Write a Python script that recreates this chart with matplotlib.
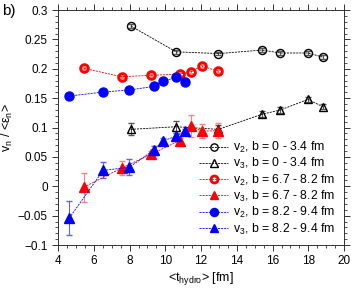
import matplotlib
matplotlib.use("Agg")
import matplotlib.pyplot as plt
import numpy as np
from matplotlib.ticker import MultipleLocator
from matplotlib.lines import Line2D

plt.rcParams['font.family'] = ['Liberation Sans', 'DejaVu Sans']
plt.rcParams['mathtext.fontset'] = 'custom'
plt.rcParams['mathtext.rm'] = 'Liberation Sans'
plt.rcParams['mathtext.it'] = 'Liberation Sans'

# b = 0 - 3.4 fm
t_c = [8.07, 10.6, 12.97, 15.4, 16.44, 17.98, 18.8]
v2_c = [0.273, 0.229, 0.226, 0.232, 0.227, 0.227, 0.220]
e2_c = [0.003, 0.003, 0.003, 0.003, 0.003, 0.003, 0.003]
v3_c = [0.097, 0.1015, 0.097, 0.1226, 0.130, 0.148, 0.1356]
e3_c = [0.010, 0.010, 0.008, 0.005, 0.005, 0.004, 0.004]

# b = 6.7 - 8.2 fm
t_m = [5.44, 7.55, 9.2, 10.8, 11.43, 12.04, 12.95]
v2_m = [0.201, 0.1866, 0.189, 0.191, 0.195, 0.205, 0.196]
e2_m = [0.003, 0.003, 0.003, 0.003, 0.003, 0.003, 0.003]
v3_m = [-0.0015, 0.031, 0.0546, 0.078, 0.1027, 0.094, 0.0947]
e3_m = [0.025, 0.012, 0.005, 0.005, 0.019, 0.012, 0.013]

# b = 8.2 - 9.4 fm
t_p = [4.62, 6.52, 7.98, 9.35, 9.86, 10.62, 11.08]
v2_p = [0.1537, 0.1605, 0.164, 0.170, 0.179, 0.1855, 0.178]
e2_p = [0.002, 0.002, 0.002, 0.002, 0.002, 0.002, 0.002]
v3_p = [-0.0543, 0.027, 0.0325, 0.0614, 0.0772, 0.0855, 0.094]
e3_p = [0.029, 0.0136, 0.0136, 0.008, 0.005, 0.005, 0.004]

fig = plt.figure(figsize=(3.54, 2.89), dpi=100)
ax = fig.add_axes([0.164, 0.152, 0.808, 0.813])

ls = (0, (2.5, 1.2))
lw = 0.6

series = [
    (t_c, v2_c, e2_c, 'black', '#555555', 'o', 5.8, 'none', 1.0, r'v$_2$, b = 0 - 3.4 fm'),
    (t_c, v3_c, e3_c, 'black', '#555555', '^', 6.0, 'none', 1.0, r'v$_3$, b = 0 - 3.4 fm'),
    (t_m, v2_m, e2_m, 'red', '#ff8080', 'o', 5.6, 'none', 2.0, r'v$_2$, b = 6.7 - 8.2 fm'),
    (t_m, v3_m, e3_m, 'red', '#ff8080', '^', 7.0, 'red', 1.0, r'v$_3$, b = 6.7 - 8.2 fm'),
    (t_p, v2_p, e2_p, 'blue', '#6060ff', 'o', 6.5, 'blue', 1.0, r'v$_2$, b = 8.2 - 9.4 fm'),
    (t_p, v3_p, e3_p, 'blue', '#6060ff', '^', 7.0, 'blue', 1.0, r'v$_3$, b = 8.2 - 9.4 fm'),
]

handles = []
for x, y, e, c, ec, m, ms, mfc, mew, lab in series:
    ax.errorbar(x, y, yerr=e, color=c, ls=ls, lw=lw, marker=m, ms=ms,
                mfc=mfc, mec=c, mew=mew, ecolor=ec, elinewidth=0.8, capsize=2.5)
    handles.append(Line2D([], [], color=c, ls=ls, lw=lw, marker=m, ms=ms * 0.9,
                          mfc=mfc, mec=c, mew=mew, label=lab))

ax.set_xlim(4, 20)
ax.set_ylim(-0.1, 0.3)
ax.xaxis.set_major_locator(MultipleLocator(2))
ax.xaxis.set_minor_locator(MultipleLocator(0.5))
ax.yaxis.set_minor_locator(MultipleLocator(0.01))
ax.set_yticks([-0.1, -0.05, 0, 0.05, 0.1, 0.15, 0.2, 0.25, 0.3])
ax.set_yticklabels(['\u22120.1', '\u22120.05', '0', '0.05', '0.1', '0.15', '0.2', '0.25', '0.3'])
ax.tick_params(which='both', direction='out', top=True, right=True, labelsize=8.5,
               colors='#333333', labelcolor='black')
ax.tick_params(which='major', length=4, width=0.7)
ax.tick_params(which='minor', length=2, width=0.6)
for s in ax.spines.values():
    s.set_linewidth(0.7)
    s.set_color('#333333')

ax.set_xlabel(r'<t$_{\rm hydro}$> [fm]', fontsize=9, labelpad=2)
ax.set_ylabel(r'v$_{\rm n}$ / <$\epsilon_{\rm n}$>', fontsize=9, labelpad=2)
fig.text(0.005, 0.985, 'b)', fontsize=11, va='top', ha='left')

leg = ax.legend(handles=handles, loc='lower right', frameon=False, fontsize=8.8,
                handlelength=2.4, handletextpad=0.4, labelspacing=0.1,
                borderaxespad=0.3, bbox_to_anchor=(1.0, 0.0))

fig.savefig('out.png', dpi=100)
